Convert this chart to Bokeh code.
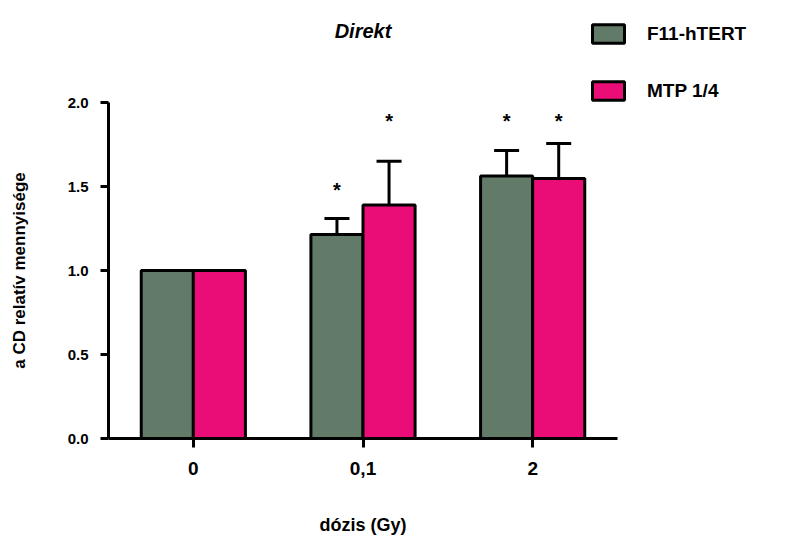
from bokeh.plotting import figure
from bokeh.models import (ColumnDataSource, FixedTicker, Whisker, TeeHead, Legend, LegendItem, Title)
from bokeh.core.properties import value
from bokeh.embed import file_html
from bokeh.resources import INLINE

# ---- data ----
doses = ["0", "0,1", "2"]
series_names = ["F11-hTERT", "MTP 1/4"]
f11_values = [1.0, 1.215, 1.563]
f11_errors = [0.0, 0.095, 0.152]
mtp_values = [1.0, 1.39, 1.548]
mtp_errors = [0.0, 0.26, 0.208]
f11_star_y = [None, 1.50, 1.905]
mtp_star_y = [None, 1.905, 1.905]
title_text = "Direkt"
x_label = "dózis (Gy)"
y_label = "a CD relatív mennyisége"
y_ticks = [0.0, 0.5, 1.0, 1.5, 2.0]

FONT = "Liberation Sans"
BW = 0.307

xs = list(range(len(doses)))
f11_x = [x - BW / 2 for x in xs]
mtp_x = [x + BW / 2 for x in xs]

src_f = ColumnDataSource(dict(x=f11_x, top=f11_values,
                              up=[v + e for v, e in zip(f11_values, f11_errors)],
                              star=[s if s is not None else float("nan") for s in f11_star_y]))
src_m = ColumnDataSource(dict(x=mtp_x, top=mtp_values,
                              up=[v + e for v, e in zip(mtp_values, mtp_errors)],
                              star=[s if s is not None else float("nan") for s in mtp_star_y]))

p = figure(width=804, height=536, frame_width=509, frame_height=336,
           x_range=(-0.5, 2.5), y_range=(0, 2.0),
           output_backend="svg", toolbar_location=None, title=None,
           min_border_left=108, min_border_right=187, min_border_top=102, min_border_bottom=98)
p.outline_line_color = None
p.grid.visible = False
p.background_fill_color = "white"
p.border_fill_color = "white"

# spacer (closest to frame) then the real title above it
p.add_layout(Title(text=" ", text_font_size="10px", standoff=43), "above")
p.add_layout(Title(text=title_text, align="center", text_font=FONT, text_font_size="20px",
                   text_font_style="bold italic", text_color="black", standoff=10), "above")

for src in (src_f, src_m):
    w = Whisker(source=src, base="x", lower="top", upper="up", dimension="height",
                line_width=3, line_color="black", lower_head=None,
                upper_head=TeeHead(size=25, line_width=3, line_color="black"))
    p.add_layout(w)

rf = p.vbar(x="x", top="top", bottom=0, width=BW, source=src_f, fill_color="#627a68",
            line_color="black", line_width=3)
rm = p.vbar(x="x", top="top", bottom=0, width=BW, source=src_m, fill_color="#ea0d77",
            line_color="black", line_width=3)

for src in (src_f, src_m):
    p.text(x="x", y="star", text=value("*"), source=src, text_font=value(FONT),
           text_font_size="20px", text_font_style="bold", text_align="center",
           text_baseline="middle", y_offset=3, text_color="black")

for ax in (p.xaxis[0], p.yaxis[0]):
    ax.axis_line_width = 3
    ax.major_tick_line_width = 3
    ax.major_tick_in = 0
    ax.minor_tick_line_color = None
    ax.major_label_text_font = FONT
    ax.major_label_text_font_style = "bold"
    ax.axis_label_text_font = FONT
    ax.axis_label_text_font_style = "bold"
    ax.major_label_text_color = "black"
    ax.axis_label_text_color = "black"

p.xaxis.ticker = FixedTicker(ticks=xs)
p.xaxis.major_label_overrides = {i: d for i, d in enumerate(doses)}
p.xaxis.major_tick_out = 9
p.xaxis.major_label_text_font_size = "19px"
p.xaxis.major_label_standoff = 14
p.xaxis.axis_label = x_label
p.xaxis.axis_label_text_font_size = "18px"
p.xaxis.axis_label_standoff = 37

p.yaxis.ticker = FixedTicker(ticks=y_ticks)
p.yaxis.major_label_overrides = {t: f"{t:.1f}" for t in y_ticks}
p.yaxis.major_tick_out = 8
p.yaxis.major_label_text_font_size = "15px"
p.yaxis.major_label_standoff = 12
p.yaxis.axis_label = y_label
p.yaxis.axis_label_text_font_size = "17px"
p.yaxis.axis_label_standoff = 36

legend = Legend(items=[LegendItem(label=series_names[0], renderers=[rf]),
                       LegendItem(label=series_names[1], renderers=[rm])],
                location=(-29, 336), glyph_width=40, glyph_height=23, label_standoff=19,
                spacing=34, padding=0, margin=0, border_line_color=None,
                background_fill_alpha=0, label_text_font=FONT, label_text_font_size="19px",
                label_text_font_style="bold", label_text_color="black", label_height=23)
p.add_layout(legend, "right")

open("out.html", "w").write(file_html(p, INLINE))
